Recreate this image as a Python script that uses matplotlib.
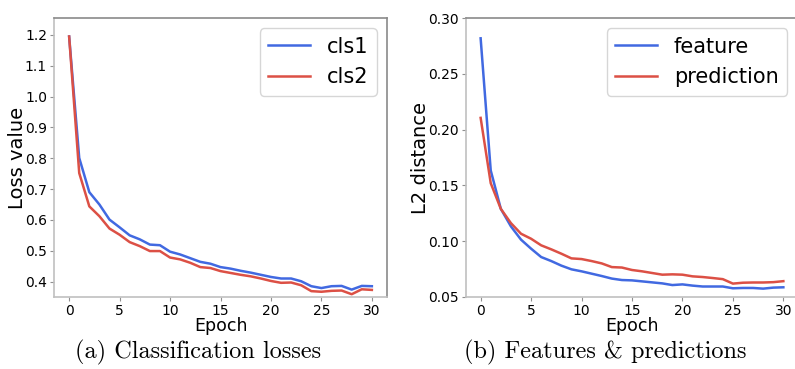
import matplotlib
matplotlib.use("Agg")
import matplotlib.pyplot as plt
import numpy as np

epochs = list(range(31))

cls1 = [1.195, 0.801, 0.690, 0.650, 0.601, 0.576, 0.550, 0.537, 0.520, 0.518,
        0.497, 0.488, 0.476, 0.464, 0.458, 0.447, 0.442, 0.435, 0.429, 0.422,
        0.415, 0.410, 0.410, 0.401, 0.385, 0.379, 0.385, 0.386, 0.374, 0.386, 0.385]
cls2 = [1.195, 0.752, 0.644, 0.612, 0.572, 0.552, 0.528, 0.515, 0.499, 0.499,
        0.478, 0.472, 0.461, 0.447, 0.444, 0.434, 0.428, 0.422, 0.417, 0.410,
        0.402, 0.396, 0.397, 0.388, 0.369, 0.367, 0.370, 0.371, 0.359, 0.375, 0.373]

feature = [0.2818, 0.1634, 0.1290, 0.1133, 0.1014, 0.0933, 0.0858, 0.0822, 0.0781, 0.0748,
           0.0730, 0.0709, 0.0688, 0.0665, 0.0652, 0.0649, 0.0640, 0.0631, 0.0622, 0.0607,
           0.0613, 0.0602, 0.0594, 0.0594, 0.0594, 0.0578, 0.0581, 0.0581, 0.0575, 0.0584, 0.0587]
prediction = [0.2105, 0.1520, 0.1290, 0.1162, 0.1067, 0.1022, 0.0963, 0.0927, 0.0888, 0.0846,
              0.0840, 0.0822, 0.0801, 0.0768, 0.0764, 0.0742, 0.0730, 0.0715, 0.0700, 0.0703,
              0.0700, 0.0685, 0.0679, 0.0670, 0.0660, 0.0620, 0.0628, 0.0630, 0.0630, 0.0633, 0.0642]

blue = '#4169e1'
red = '#dc5045'

W, H = 795, 369
fig = plt.figure(figsize=(W / 100, H / 100), dpi=100)

def px_axes(x0, y0, x1, y1):
    return fig.add_axes([x0 / W, 1 - y1 / H, (x1 - x0) / W, (y1 - y0) / H])

def style(ax):
    for s in ['left', 'bottom']:
        ax.spines[s].set_color('#c0c0c0')
    for s in ['top', 'right']:
        ax.spines[s].set_color('#8a8a8a')
    for sp in ax.spines.values():
        sp.set_linewidth(1.2)
    ax.tick_params(labelsize=10, length=3, color='#909090', pad=2)

ax1 = px_axes(54, 18, 387, 297)
ax1.plot(epochs, cls1, color=blue, lw=1.8, label='cls1')
ax1.plot(epochs, cls2, color=red, lw=1.8, label='cls2')
ax1.set_ylim(0.35, 1.255)
ax1.set_yticks([0.4, 0.5, 0.6, 0.7, 0.8, 0.9, 1.0, 1.1, 1.2])
ax1.set_xticks([0, 5, 10, 15, 20, 25, 30])
ax1.set_xlabel('Epoch', fontsize=12.5, labelpad=-1)
ax1.set_ylabel('Loss value', fontsize=14, labelpad=-1.5)
ax1.legend(fontsize=15, loc='upper right', handlelength=2.0, borderaxespad=0.5)
style(ax1)

ax2 = px_axes(465.5, 18, 798.5, 297)
ax2.plot(epochs, feature, color=blue, lw=1.8, label='feature')
ax2.plot(epochs, prediction, color=red, lw=1.8, label='prediction')
ax2.set_ylim(0.05, 0.30)
ax2.set_yticks([0.05, 0.10, 0.15, 0.20, 0.25, 0.30])
ax2.set_xticks([0, 5, 10, 15, 20, 25, 30])
ax2.set_xlabel('Epoch', fontsize=12.5, labelpad=-1)
ax2.set_ylabel('L2 distance', fontsize=14, labelpad=-1.5)
ax2.legend(fontsize=15, loc='upper right', handlelength=2.0, bbox_to_anchor=(0.996, 1.0))
style(ax2)

cap = dict(fontsize=17.5, family=['cmr10', 'DejaVu Serif'], ha='center', va='center')
fig.text(198 / W, 1 - 352 / H, '(a) Classification losses', **cap)
fig.text(605 / W, 1 - 352 / H, '(b) Features & predictions', **cap)

fig.savefig('out.png', dpi=100)
